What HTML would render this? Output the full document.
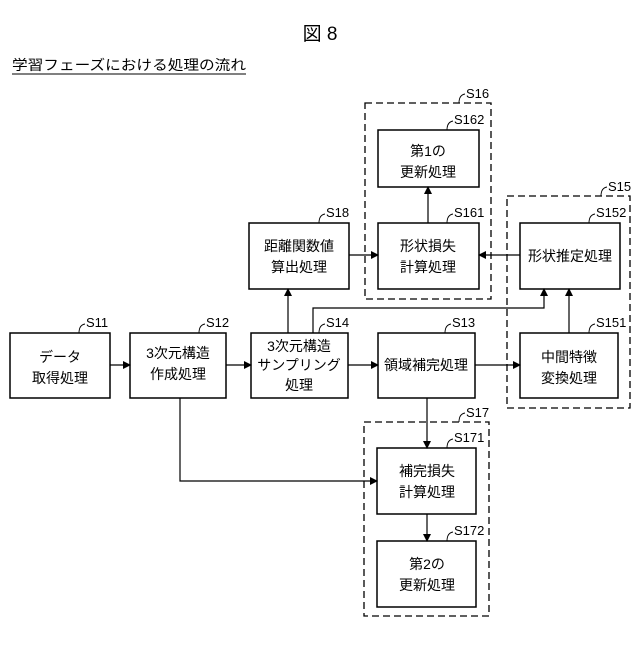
<!DOCTYPE html>
<html><head><meta charset="utf-8"><style>
body{margin:0;background:#fff}
svg text{font-family:"Liberation Sans","Noto Sans CJK JP",sans-serif;fill:#000}
</style></head><body>
<svg width="640" height="640" viewBox="0 0 640 640" xmlns="http://www.w3.org/2000/svg">
<defs><marker id="a" markerWidth="8" markerHeight="8" refX="7" refY="4" orient="auto" markerUnits="userSpaceOnUse"><path d="M0,0 L8,4 L0,8z" fill="#000"/></marker></defs>
<text x="320" y="40" font-size="19" text-anchor="middle">図 8</text>
<text x="12" y="70" font-size="14" textLength="234" lengthAdjust="spacingAndGlyphs">学習フェーズにおける処理の流れ</text>
<line x1="12" y1="74" x2="246" y2="74" stroke="#000" stroke-width="1"/>
<g fill="none" stroke="#000" stroke-width="1.3" stroke-dasharray="7,4">
<rect x="365" y="103" width="126" height="196"/>
<rect x="507" y="196" width="123" height="212"/>
<rect x="364" y="422" width="125" height="194"/>
</g>
<g fill="#fff" stroke="#000" stroke-width="1.5">
<rect x="10" y="333" width="100" height="65"/>
<rect x="130" y="333" width="96" height="65"/>
<rect x="251" y="333" width="97" height="65"/>
<rect x="378" y="333" width="97" height="65"/>
<rect x="520" y="333" width="98" height="65"/>
<rect x="249" y="223" width="100" height="66"/>
<rect x="378" y="130" width="101" height="57"/>
<rect x="378" y="223" width="101" height="66"/>
<rect x="520" y="223" width="100" height="66"/>
<rect x="377" y="448" width="99" height="66"/>
<rect x="377" y="541" width="99" height="66"/>
</g>
<g stroke="#000" stroke-width="1.2" fill="none" marker-end="url(#a)">
<line x1="110" y1="365" x2="130" y2="365"/>
<line x1="226" y1="365" x2="251" y2="365"/>
<line x1="348" y1="365" x2="378" y2="365"/>
<line x1="475" y1="365" x2="520" y2="365"/>
<line x1="288" y1="333" x2="288" y2="289"/>
<line x1="349" y1="255" x2="378" y2="255"/>
<line x1="520" y1="255" x2="479" y2="255"/>
<line x1="428" y1="223" x2="428" y2="187"/>
<polyline points="313,333 313,308 544,308 544,289"/>
<line x1="569" y1="333" x2="569" y2="289"/>
<line x1="427" y1="398" x2="427" y2="448"/>
<polyline points="180,398 180,481 377,481"/>
<line x1="427" y1="514" x2="427" y2="541"/>
</g>
<g font-size="14" text-anchor="middle">
<text x="60" y="362">データ</text><text x="60" y="383">取得処理</text>
<text x="178" y="358">3次元構造</text><text x="178" y="379">作成処理</text>
<text x="299" y="351">3次元構造</text><text x="299" y="370">サンプリング</text><text x="299" y="390">処理</text>
<text x="426" y="370">領域補完処理</text>
<text x="569" y="362">中間特徴</text><text x="569" y="383">変換処理</text>
<text x="299" y="251">距離関数値</text><text x="299" y="272">算出処理</text>
<text x="428" y="156">第1の</text><text x="428" y="177">更新処理</text>
<text x="428" y="251">形状損失</text><text x="428" y="272">計算処理</text>
<text x="570" y="261">形状推定処理</text>
<text x="427" y="476">補完損失</text><text x="427" y="497">計算処理</text>
<text x="427" y="569">第2の</text><text x="427" y="590">更新処理</text>
</g>
<g font-size="13">
<text x="86" y="327">S11</text>
<text x="206" y="327">S12</text>
<text x="326" y="327">S14</text>
<text x="452" y="327">S13</text>
<text x="596" y="327">S151</text>
<text x="326" y="217">S18</text>
<text x="454" y="124">S162</text>
<text x="454" y="217">S161</text>
<text x="596" y="217">S152</text>
<text x="466" y="98">S16</text>
<text x="608" y="191">S15</text>
<text x="466" y="417">S17</text>
<text x="454" y="442">S171</text>
<text x="454" y="535">S172</text>
</g>
<g stroke="#000" stroke-width="0.9" fill="none">
<path d="M79,333 q0,-8 6,-9"/><path d="M199,333 q0,-8 6,-9"/><path d="M319,333 q0,-8 6,-9"/>
<path d="M445,333 q0,-8 6,-9"/><path d="M589,333 q0,-8 6,-9"/><path d="M319,223 q0,-8 6,-9"/>
<path d="M447,130 q0,-8 6,-9"/><path d="M447,223 q0,-8 6,-9"/><path d="M589,223 q0,-8 6,-9"/>
<path d="M459,103 q0,-8 6,-9"/><path d="M601,196 q0,-8 6,-9"/><path d="M459,422 q0,-8 6,-9"/>
<path d="M447,448 q0,-8 6,-9"/><path d="M447,541 q0,-8 6,-9"/>
</g>
</svg>
</body></html>
